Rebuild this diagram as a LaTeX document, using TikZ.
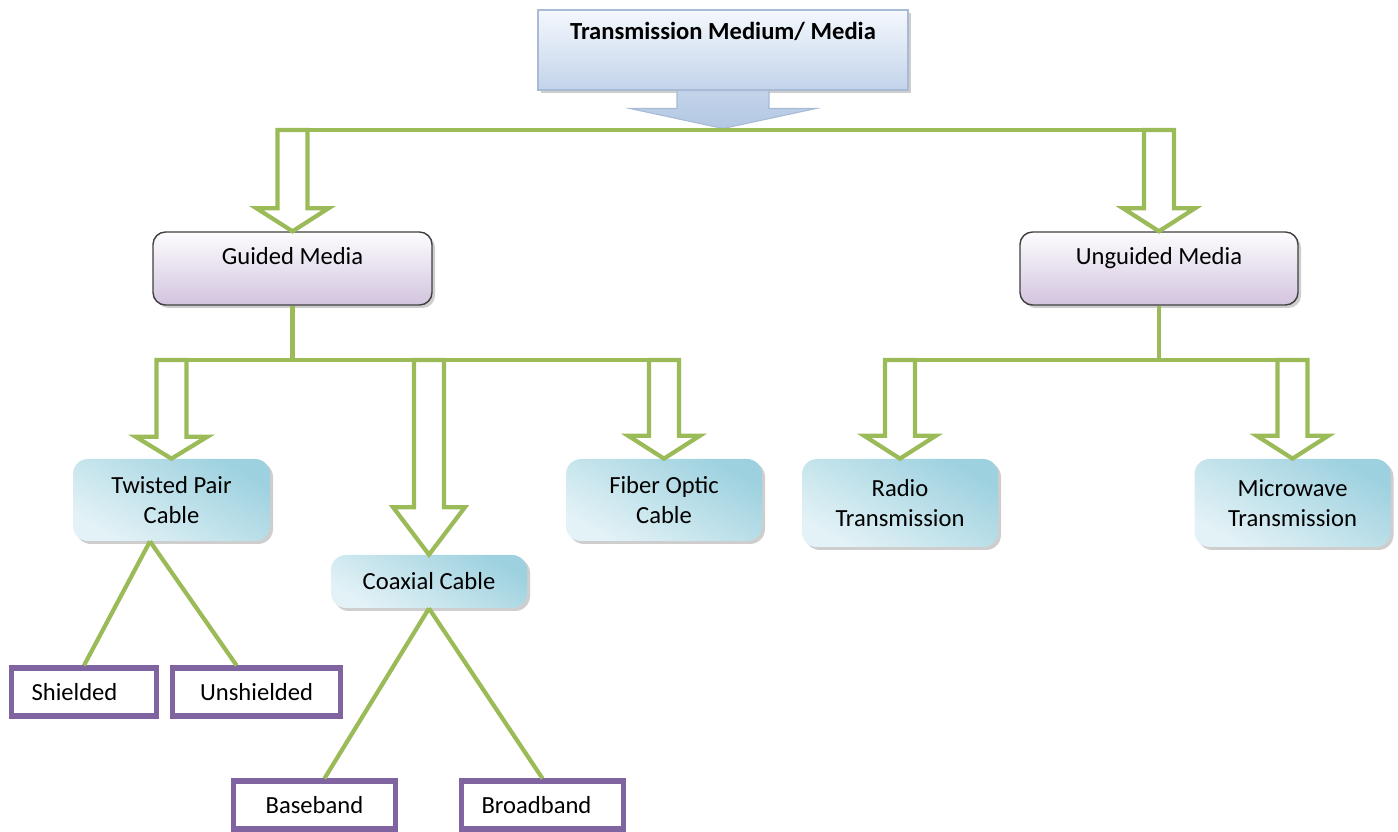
\documentclass[tikz,border=0pt]{standalone}
\usepackage{fontspec}
\setmainfont{Carlito}
\usetikzlibrary{calc, positioning, shadows}

\definecolor{branchgreen}{HTML}{9BBB59}
\definecolor{leafpurple}{HTML}{8064A2}
\definecolor{topfillA}{HTML}{F4F8FD}
\definecolor{topfillB}{HTML}{C3D3EA}
\definecolor{topline}{HTML}{A7BAD6}
\definecolor{arrowfill}{HTML}{B3C8E3}
\definecolor{mediaA}{HTML}{FDFCFE}
\definecolor{mediaB}{HTML}{D2C4DE}
\definecolor{cableA}{HTML}{E3F2F6}
\definecolor{cableB}{HTML}{9DD1DF}

\tikzset{
  boxfont/.style={font=\fontsize{14}{17}\selectfont},
  softshadow/.style={drop shadow={shadow xshift=0.06cm, shadow yshift=-0.06cm, opacity=0.35, fill=black!55}},
  branch/.style={draw=branchgreen, line width=2.4pt, line join=miter},
  topbox/.style={draw=topline, line width=0.6pt, top color=topfillA, bottom color=topfillB,
    softshadow, boxfont, inner sep=0pt, text height=0.35cm, text depth=0.75cm},
  toparrow/.style={draw=topline, line width=0.6pt, top color=topfillB, bottom color=arrowfill},
  mediabox/.style={draw=black!75, line width=0.8pt, rounded corners=0.25cm, top color=mediaA,
    bottom color=mediaB, softshadow, boxfont, inner sep=0pt, text height=0.35cm, text depth=0.49cm},
  cablebox/.style={rounded corners=0.3cm, top color=cableB, bottom color=cableA, shading angle=-30,
    softshadow, boxfont, align=center, inner sep=0pt},
  leafbox/.style={draw=leafpurple, line width=2.9pt, fill=white, boxfont, inner sep=0pt,
    minimum height=0.96cm},
}

% hollow arrow from a bar down to a node: target, bar, head length
\newcommand{\hollowarrow}[3]{%
  \draw[branch] let \p1=(#1.north), \p2=(#2) in
    (\x1-0.3cm,\y2) -- (\x1-0.3cm,\y1+#3) -- (\x1-0.72cm,\y1+#3) -- (\p1)
    -- (\x1+0.72cm,\y1+#3) -- (\x1+0.3cm,\y1+#3) -- (\x1+0.3cm,\y2) -- cycle;}

\begin{document}
\begin{tikzpicture}
  \useasboundingbox (0,0) rectangle (27.96,-16.64);

  % root
  \node[topbox, minimum width=7.4cm, minimum height=1.6cm] (tm) at (14.46,-1.0)
    {\bfseries Transmission Medium/ Media};
  \draw[toparrow] ([xshift=-0.92cm]tm.south) -- ++(0,-0.36) -- ++(-0.94,0)
    -- ([yshift=-0.76cm]tm.south) -- ++(1.86,0.4) -- ++(-0.94,0) -- ++(0,0.36) -- cycle;

  % second level
  \node[mediabox, minimum width=5.58cm, minimum height=1.46cm] (guided) at (5.85,-5.37) {Guided Media};
  \node[mediabox, minimum width=5.56cm, minimum height=1.46cm] (unguided) at (23.18,-5.37) {Unguided Media};

  % cables and wireless
  \node[cablebox, minimum width=3.94cm, minimum height=1.64cm] (twisted) at (3.43,-10.0) {Twisted Pair\\Cable};
  \node[cablebox, minimum width=3.92cm, minimum height=1.06cm] (coax) at (8.58,-11.63) {Coaxial Cable};
  \node[cablebox, minimum width=3.92cm, minimum height=1.64cm] (fiber) at (13.28,-10.0) {Fiber Optic\\Cable};
  \node[cablebox, minimum width=3.92cm, minimum height=1.76cm] (radio) at (18.0,-10.06) {Radio\\Transmission};
  \node[cablebox, minimum width=3.92cm, minimum height=1.76cm] (micro) at (25.85,-10.06) {Microwave\\Transmission};

  % leaves
  \node[leafbox, minimum width=2.9cm] (shielded) at (1.68,-13.84) {Shielded\kern0.38cm};
  \node[leafbox, minimum width=3.36cm, right=0.22cm of shielded] (unshielded) {Unshielded};
  \node[leafbox, minimum width=3.24cm] (baseband) at (6.29,-16.1) {Baseband};
  \node[leafbox, minimum width=3.24cm] (broadband) at (10.85,-16.1) {Broadband\kern0.24cm};

  % bars
  \coordinate (topL) at (5.55,-2.6);
  \coordinate (topR) at (23.48,-2.6);
  \coordinate (gbarL) at (3.13,-7.2);
  \coordinate (gbarR) at (13.58,-7.2);
  \coordinate (ubarL) at (17.7,-7.2);
  \coordinate (ubarR) at (26.15,-7.2);
  \draw[branch] (topL) -- (topR);
  \draw[branch] (gbarL) -- (gbarR);
  \draw[branch] (ubarL) -- (ubarR);
  \draw[branch] (guided.south) -- (guided.south |- gbarL);
  \draw[branch] (unguided.south) -- (unguided.south |- ubarL);

  % hollow arrows
  \hollowarrow{guided}{topL}{0.46cm}
  \hollowarrow{unguided}{topR}{0.46cm}
  \hollowarrow{twisted}{gbarL}{0.44cm}
  \hollowarrow{coax}{gbarL}{0.95cm}
  \hollowarrow{fiber}{gbarR}{0.46cm}
  \hollowarrow{radio}{ubarL}{0.46cm}
  \hollowarrow{micro}{ubarR}{0.46cm}

  % plain links to leaves
  \draw[branch] ([xshift=-0.43cm]twisted.south) -- (shielded.north);
  \draw[branch] ([xshift=-0.43cm]twisted.south) -- ([xshift=-0.4cm]unshielded.north);
  \draw[branch] (coax.south) -- ([xshift=0.2cm]baseband.north);
  \draw[branch] (coax.south) -- (broadband.north);
\end{tikzpicture}
\end{document}
